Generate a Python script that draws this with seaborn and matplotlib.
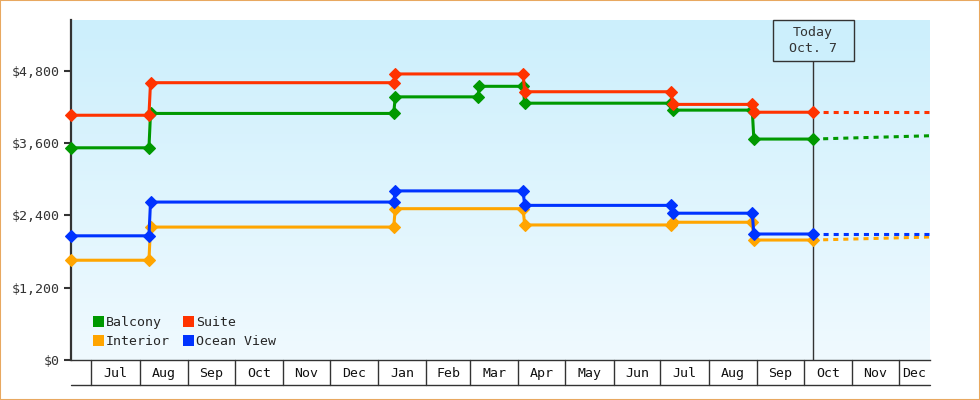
import numpy as np
import pandas as pd
import matplotlib
matplotlib.use("Agg")
import matplotlib.pyplot as plt
import matplotlib.dates as mdates
import matplotlib.transforms as mtransforms
from matplotlib.patches import Rectangle, Patch
from matplotlib.lines import Line2D
import seaborn as sns

# ---------------- data ----------------
rooms = ["Balcony", "Suite", "Interior", "Ocean View"]
room_colors = ["#009900", "#ff3300", "#ffa500", "#0033ff"]

start_date = "2024-06-18"
today_date = "2025-10-07"
end_date = "2025-12-21"

common_changes = ["2024-08-07", "2025-01-11", "2025-04-04", "2025-07-08", "2025-08-29"]
balcony_changes = ["2024-08-07", "2025-01-11", "2025-03-06", "2025-04-04", "2025-07-08", "2025-08-29"]

balcony_prices = [3520, 4090, 4365, 4540, 4260, 4145, 3665]
suite_prices = [4060, 4600, 4745, 4450, 4240, 4110]
interior_prices = [1655, 2205, 2510, 2240, 2285, 1990]
ocean_prices = [2060, 2620, 2805, 2565, 2435, 2090]

forecast_end_prices = [3720, 4110, 2040, 2090]  # Balcony, Suite, Interior, Ocean View

month_labels = ["Jul", "Aug", "Sep", "Oct", "Nov", "Dec", "Jan", "Feb", "Mar",
                "Apr", "May", "Jun", "Jul", "Aug", "Sep", "Oct", "Nov", "Dec"]
first_month = "2024-07-01"
y_ticks = [0, 1200, 2400, 3600, 4800]
y_max = 5640

# ---------------- build tables ----------------
series = {
    "Balcony": (balcony_changes, balcony_prices),
    "Suite": (common_changes, suite_prices),
    "Interior": (common_changes, interior_prices),
    "Ocean View": (common_changes, ocean_prices),
}
one_day = pd.Timedelta(days=1)
rows = []
for room in rooms:
    changes, prices = series[room]
    rows.append((room, pd.Timestamp(start_date), prices[0]))
    for i, d in enumerate(changes):
        d = pd.Timestamp(d)
        rows.append((room, d, prices[i]))
        rows.append((room, d + one_day, prices[i + 1]))
    rows.append((room, pd.Timestamp(today_date), prices[-1]))
hist = pd.DataFrame(rows, columns=["room", "date", "price"])

frows = []
for room, endp in zip(rooms, forecast_end_prices):
    frows.append((room, pd.Timestamp(today_date), series[room][1][-1]))
    frows.append((room, pd.Timestamp(end_date), endp))
fcast = pd.DataFrame(frows, columns=["room", "date", "price"])

palette = dict(zip(rooms, room_colors))

# ---------------- style ----------------
sns.set_theme(style="white")
plt.rcParams["font.family"] = ["DejaVu Sans Mono", "DejaVu Sans"]
FS = 9.5
dark = "#333333"

fig = plt.figure(figsize=(9.8, 4.0), dpi=100)
ax = fig.add_axes([71 / 980, 40 / 400, 859 / 980, 340 / 400])

x0 = pd.Timestamp(start_date)
x1 = pd.Timestamp(end_date)

# gradient background
top_c = np.array([204, 239, 252]) / 255
bot_c = np.array([240, 250, 255]) / 255
t = np.linspace(0, 1, 256)[:, None]
grad = (top_c[None, :] * (1 - t) + bot_c[None, :] * t)[:, None, :]
ax.imshow(grad, aspect="auto", extent=[0, 1, 0, 1], transform=ax.transAxes,
          zorder=0, interpolation="bilinear")

trans = mtransforms.blended_transform_factory(ax.transData, ax.transAxes)
today = pd.Timestamp(today_date)
box_h = 41 / 340

# today line
ax.plot([today, today], [0, 1 - box_h], transform=trans, color=dark, lw=1, zorder=1)

# history
sns.lineplot(data=hist, x="date", y="price", hue="room", hue_order=rooms,
             palette=palette, estimator=None, sort=False, marker="D",
             markersize=5.8, markeredgewidth=0.8, lw=2.2, legend=False, ax=ax,
             zorder=3)
for ln in ax.lines[1:]:
    ln.set_markeredgecolor(ln.get_color())
    ln.set_clip_on(False)

# forecast
sns.lineplot(data=fcast, x="date", y="price", hue="room", hue_order=rooms,
             palette=palette, estimator=None, sort=False, lw=2.2,
             linestyle=(0, (1.65, 1.65)), legend=False, ax=ax, zorder=2)

ax.set_xlim(x0, x1)
ax.set_ylim(0, y_max)

# y axis
ax.set_yticks(y_ticks)
ax.set_yticklabels([f"${v:,.0f}" for v in y_ticks], fontsize=FS, color=dark)
ax.tick_params(axis="y", direction="out", length=5, width=1.5, color=dark, pad=3, left=True)
ax.set_ylabel("")
ax.set_xlabel("")

# month cells
cell_h = 25 / 340
bounds = pd.date_range(first_month, periods=len(month_labels) + 1, freq="MS")
centers = []
for i in range(len(month_labels)):
    a = max(bounds[i], x0)
    b = min(bounds[i + 1], x1)
    centers.append(a + (b - a) / 2)
    ax.add_line(Line2D([mdates.date2num(bounds[i])] * 2, [0, -cell_h], transform=trans,
                       color=dark, lw=1, clip_on=False))
ax.add_line(Line2D([0, 1], [-cell_h, -cell_h], transform=ax.transAxes,
                   color=dark, lw=1, clip_on=False))
ax.set_xticks(centers)
ax.set_xticklabels(month_labels, fontsize=FS, color="#111111")
ax.tick_params(axis="x", length=0, pad=5, bottom=True)

for s in ["top", "right"]:
    ax.spines[s].set_visible(False)
ax.spines["left"].set_color(dark)
ax.spines["left"].set_linewidth(1.6)
ax.spines["bottom"].set_color(dark)
ax.spines["bottom"].set_linewidth(1)
ax.spines["left"].set_zorder(2)

# today box
half = pd.Timedelta(days=26)
ax.add_patch(Rectangle((mdates.date2num(today - half), 1 - box_h),
                       mdates.date2num(today + half) - mdates.date2num(today - half), box_h,
                       transform=trans, facecolor=top_c, edgecolor=dark, lw=1,
                       clip_on=False, zorder=6))
ax.text(today, 1 - box_h / 2, "Today\nOct. 7", transform=trans, ha="center", va="center",
        fontsize=FS, color=dark, linespacing=1.35, zorder=7)

# legend
leg_order = ["Balcony", "Interior", "Suite", "Ocean View"]
handles = [Patch(facecolor=palette[r], edgecolor="none") for r in leg_order]
ax.legend(handles, leg_order, ncol=2, loc="lower left",
          bbox_to_anchor=(22 / 859, 12 / 340), frameon=False, fontsize=FS,
          handlelength=0.85, handleheight=0.85, handletextpad=0.15,
          columnspacing=0.95, borderpad=0, borderaxespad=0, labelspacing=0.45)

# figure border
fig.add_artist(Rectangle((0, 0), 1, 1, transform=fig.transFigure, fill=False,
                         edgecolor="#e8a860", lw=1.5))

fig.savefig("out.png", dpi=100)
